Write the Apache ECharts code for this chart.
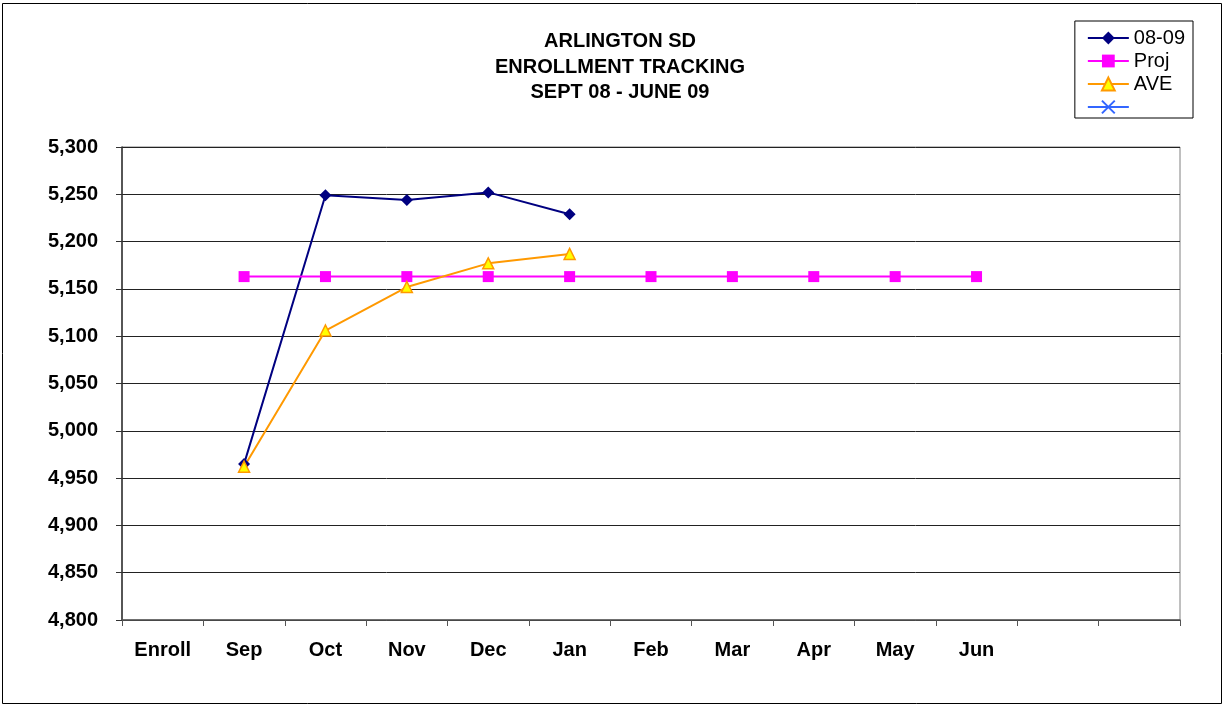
<!DOCTYPE html>
<html>
<head>
<meta charset="utf-8">
<script src="https://cdn.jsdelivr.net/npm/echarts@6/dist/echarts.min.js"></script>
<style>
  html, body { margin: 0; padding: 0; background: #fff; }
  #chart { width: 1225px; height: 706px; }
</style>
</head>
<body>
<div id="chart"></div>
<script>
// 月份（最后两格为空）
const categories = ['Enroll', 'Sep', 'Oct', 'Nov', 'Dec', 'Jan', 'Feb', 'Mar', 'Apr', 'May', 'Jun', '', ' ']
const actual = [null, 4965, 5249, 5244, 5252, 5229]
const proj = [null, 5163, 5163, 5163, 5163, 5163, 5163, 5163, 5163, 5163, 5163]
const ave = [null, 4962, 5106, 5152, 5177, 5187]
const blank = []

const font = 'Liberation Sans, Arial, sans-serif'
const chart = echarts.init(document.getElementById('chart'))

const option = {
    animation: false,
    textStyle: { fontFamily: font },
    title: {
        text: 'ARLINGTON SD\nENROLLMENT TRACKING\nSEPT 08 - JUNE 09',
        left: 615,
        textAlign: 'center',
        top: 24,
        textStyle: {
            fontSize: 20,
            fontWeight: 'bold',
            color: '#000',
            lineHeight: 25.5,
            fontFamily: font
        }
    },
    legend: {
        orient: 'vertical',
        right: 32,
        top: 21,
        padding: [7, 8, 1, 12],
        borderColor: '#000',
        borderWidth: 1,
        itemWidth: 41,
        itemHeight: 16,
        itemGap: 3,
        textStyle: { fontSize: 20, lineHeight: 20, color: '#000', fontFamily: font },
        data: ['08-09', 'Proj', 'AVE', ' ']
    },
    grid: {
        left: 122,
        right: 45,
        top: 147,
        bottom: 86,
        show: true,
        borderColor: '#808080',
        borderWidth: 1
    },
    xAxis: {
        type: 'category',
        data: categories,
        boundaryGap: true,
        axisLine: { lineStyle: { color: '#555', width: 1.5 } },
        axisTick: { show: true, length: 6, lineStyle: { color: '#555' } },
        axisLabel: {
            margin: 20,
            fontSize: 20,
            fontWeight: 'bold',
            color: '#000',
            fontFamily: font
        },
        splitLine: { show: false }
    },
    yAxis: {
        type: 'value',
        min: 4800,
        max: 5300,
        interval: 50,
        axisLine: { show: true, lineStyle: { color: '#333', width: 1.5 } },
        axisTick: { show: true, length: 6, lineStyle: { color: '#333' } },
        axisLabel: {
            margin: 24,
            fontSize: 20,
            fontWeight: 'bold',
            color: '#000',
            fontFamily: font,
            formatter: function (v) { return v.toLocaleString('en-US') }
        },
        splitLine: { lineStyle: { color: '#222', width: 1 } }
    },
    series: [
        {
            name: '08-09',
            type: 'line',
            data: actual,
            color: '#000080',
            symbol: 'diamond',
            symbolSize: 12,
            lineStyle: { width: 2, color: '#000080' },
            itemStyle: { color: '#000080' }
        },
        {
            name: 'Proj',
            type: 'line',
            data: proj,
            color: '#ff00ff',
            symbol: 'rect',
            symbolSize: 11,
            lineStyle: { width: 2, color: '#ff00ff' },
            itemStyle: { color: '#ff00ff' }
        },
        {
            name: 'AVE',
            type: 'line',
            data: ave,
            color: '#ff9900',
            symbol: 'triangle',
            symbolSize: 11,
            lineStyle: { width: 2, color: '#ff9900' },
            itemStyle: { color: '#ffff00', borderColor: '#ff9900', borderWidth: 1.5 }
        },
        {
            name: ' ',
            type: 'line',
            data: blank,
            color: '#3366ff',
            symbol: 'path://M0,0L10,10M10,0L0,10',
            symbolSize: 11,
            lineStyle: { width: 2, color: '#3366ff' },
            itemStyle: { color: 'none', borderColor: '#3366ff', borderWidth: 2 }
        }
    ],
    graphic: [{
        type: 'rect',
        shape: { x: 2.5, y: 3.5, width: 1219, height: 700 },
        style: { fill: 'none', stroke: '#000', lineWidth: 1 },
        silent: true
    }]
}
chart.setOption(option)
</script>
</body>
</html>
